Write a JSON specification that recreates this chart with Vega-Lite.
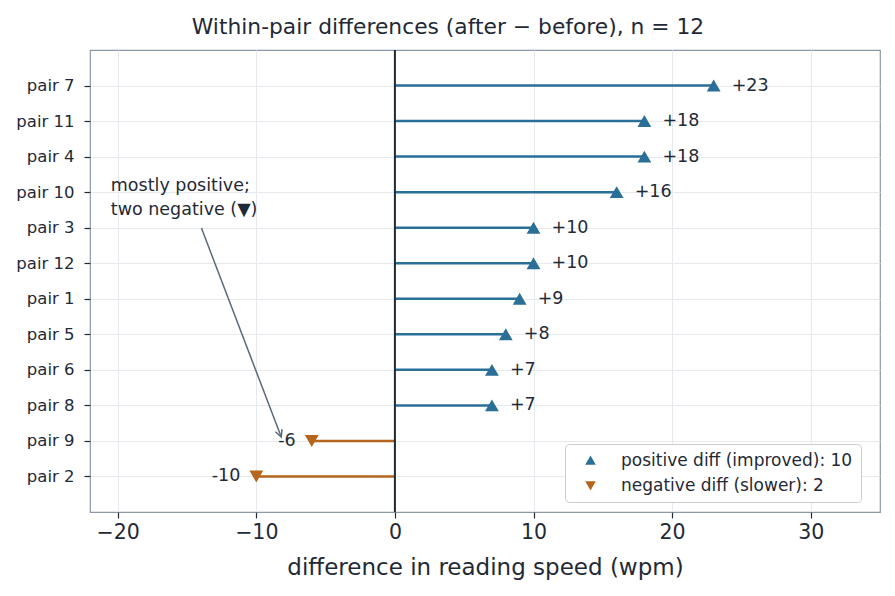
{
  "$schema": "https://vega.github.io/schema/vega-lite/v6.json",
  "autosize": "none",
  "width": 790,
  "height": 462,
  "padding": {"left": 90, "top": 50, "right": 15, "bottom": 84},
  "background": "white",
  "config": {
    "font": "DejaVu Sans",
    "view": {"stroke": "#8a99a8", "strokeWidth": 1.2},
    "axis": {"gridColor": "#e6eaef", "gridWidth": 1, "domain": false, "tickColor": "#1f2a36", "tickWidth": 1.2, "labelColor": "#1f2a36", "titleColor": "#1f2a36", "labelFont": "DejaVu Sans", "titleFont": "DejaVu Sans"},
    "legend": {"orient": "none", "legendX": 475, "legendY": 394, "labelFontSize": 17, "labelFont": "DejaVu Sans", "labelColor": "#1f2a36", "symbolSize": 64, "padding": 8, "symbolOffset": 9, "strokeColor": "#cccccc", "fillColor": "white", "cornerRadius": 4, "rowPadding": 7, "labelOffset": 22, "labelLimit": 400}
  },
  "title": {"text": "Within-pair differences (after \u2212 before), n = 12", "fontSize": 21.8, "fontWeight": "normal", "color": "#1f2a36", "offset": 10, "dx": -37, "font": "DejaVu Sans"},
  "datasets": {
    "pairs": [
      {"pair": "pair 7", "diff": 23, "label": "+23", "direction": "positive diff (improved): 10"},
      {"pair": "pair 11", "diff": 18, "label": "+18", "direction": "positive diff (improved): 10"},
      {"pair": "pair 4", "diff": 18, "label": "+18", "direction": "positive diff (improved): 10"},
      {"pair": "pair 10", "diff": 16, "label": "+16", "direction": "positive diff (improved): 10"},
      {"pair": "pair 3", "diff": 10, "label": "+10", "direction": "positive diff (improved): 10"},
      {"pair": "pair 12", "diff": 10, "label": "+10", "direction": "positive diff (improved): 10"},
      {"pair": "pair 1", "diff": 9, "label": "+9", "direction": "positive diff (improved): 10"},
      {"pair": "pair 5", "diff": 8, "label": "+8", "direction": "positive diff (improved): 10"},
      {"pair": "pair 6", "diff": 7, "label": "+7", "direction": "positive diff (improved): 10"},
      {"pair": "pair 8", "diff": 7, "label": "+7", "direction": "positive diff (improved): 10"},
      {"pair": "pair 9", "diff": -6, "label": "-6", "direction": "negative diff (slower): 2"},
      {"pair": "pair 2", "diff": -10, "label": "-10", "direction": "negative diff (slower): 2"}
    ],
    "note": [
      {"x": -20.5, "y": 3.83, "text": "mostly positive;"},
      {"x": -20.5, "y": 4.5, "text": "two negative (\u25bc)"}
    ],
    "arrow": [
      {"x": -13.96, "y": 5.01, "x2": -8.2, "y2": 10.89}
    ],
    "zero": [{"z": 0, "y": 0, "y2": 13}]
  },
  "layer": [
    {
      "data": {"name": "pairs"},
      "mark": {"type": "rule", "strokeWidth": 2.5},
      "encoding": {
        "y": {"field": "pair", "type": "nominal", "sort": null,
              "scale": {"type": "point", "padding": 1, "domain": ["pair 7","pair 11","pair 4","pair 10","pair 3","pair 12","pair 1","pair 5","pair 6","pair 8","pair 9","pair 2"]},
              "axis": {"title": null, "labelFontSize": 16.5, "tickSize": 6, "labelPadding": 10, "grid": true}},
        "x": {"field": "diff", "type": "quantitative", "scale": {"domain": [-22, 35], "nice": false, "zero": false},
              "axis": {"title": "difference in reading speed (wpm)", "titleFontSize": 23, "titleFontWeight": "normal", "labelFontSize": 20.5, "values": [-20, -10, 0, 10, 20, 30], "tickSize": 6, "labelPadding": 4, "titlePadding": 14, "labelExpr": "replace(datum.label, '-', '\u2212')"}},
        "x2": {"datum": 0},
        "color": {"field": "direction", "type": "nominal", "title": null, "scale": {"domain": ["positive diff (improved): 10", "negative diff (slower): 2"], "range": ["#2a6f97", "#b5651d"]}}
      }
    },
    {
      "data": {"name": "zero"},
      "mark": {"type": "rule", "color": "#1f2a36", "strokeWidth": 2},
      "encoding": {
        "x": {"field": "z", "type": "quantitative"},
        "y": {"field": "y", "type": "quantitative", "scale": {"domain": [0, 13], "reverse": true, "nice": false, "zero": false}, "axis": null},
        "y2": {"field": "y2"}
      }
    },
    {
      "data": {"name": "pairs"},
      "mark": {"type": "point", "filled": true, "opacity": 1, "size": 190},
      "encoding": {
        "y": {"field": "pair", "type": "nominal", "sort": null, "scale": {"type": "point", "padding": 1, "domain": ["pair 7","pair 11","pair 4","pair 10","pair 3","pair 12","pair 1","pair 5","pair 6","pair 8","pair 9","pair 2"]}, "axis": null},
        "x": {"field": "diff", "type": "quantitative"},
        "color": {"field": "direction", "type": "nominal", "title": null},
        "shape": {"field": "direction", "type": "nominal", "title": null, "scale": {"domain": ["positive diff (improved): 10", "negative diff (slower): 2"], "range": ["triangle-up", "triangle-down"]}}
      }
    },
    {
      "data": {"name": "pairs"},
      "transform": [{"filter": "datum.diff > 0"}],
      "mark": {"type": "text", "fontSize": 17.5, "color": "#1f2a36", "baseline": "middle", "align": "left", "dx": 18},
      "encoding": {
        "y": {"field": "pair", "type": "nominal", "sort": null, "scale": {"type": "point", "padding": 1, "domain": ["pair 7","pair 11","pair 4","pair 10","pair 3","pair 12","pair 1","pair 5","pair 6","pair 8","pair 9","pair 2"]}, "axis": null},
        "x": {"field": "diff", "type": "quantitative"},
        "text": {"field": "label"}
      }
    },
    {
      "data": {"name": "pairs"},
      "transform": [{"filter": "datum.diff < 0"}],
      "mark": {"type": "text", "fontSize": 17.5, "color": "#1f2a36", "baseline": "middle", "align": "right", "dx": -16},
      "encoding": {
        "y": {"field": "pair", "type": "nominal", "sort": null, "scale": {"type": "point", "padding": 1, "domain": ["pair 7","pair 11","pair 4","pair 10","pair 3","pair 12","pair 1","pair 5","pair 6","pair 8","pair 9","pair 2"]}, "axis": null},
        "x": {"field": "diff", "type": "quantitative"},
        "text": {"field": "label"}
      }
    },
    {
      "data": {"name": "note"},
      "mark": {"type": "text", "align": "left", "baseline": "middle", "fontSize": 17.5, "color": "#1f2a36"},
      "encoding": {
        "x": {"field": "x", "type": "quantitative"},
        "y": {"field": "y", "type": "quantitative", "scale": {"domain": [0, 13], "reverse": true, "nice": false, "zero": false}, "axis": null},
        "text": {"field": "text"}
      }
    },
    {
      "data": {"name": "arrow"},
      "mark": {"type": "rule", "color": "#5a6b7c", "strokeWidth": 1.5},
      "encoding": {
        "x": {"field": "x", "type": "quantitative"},
        "x2": {"field": "x2"},
        "y": {"field": "y", "type": "quantitative", "scale": {"domain": [0, 13], "reverse": true, "nice": false, "zero": false}, "axis": null},
        "y2": {"field": "y2"}
      }
    },
    {
      "data": {"name": "arrow"},
      "mark": {"type": "point", "shape": "M-0.5,-1L0,0L0.5,-1", "filled": false, "stroke": "#5a6b7c", "strokeWidth": 1.5, "size": 200, "angle": 339, "opacity": 1},
      "encoding": {
        "x": {"field": "x2", "type": "quantitative"},
        "y": {"field": "y2", "type": "quantitative", "scale": {"domain": [0, 13], "reverse": true, "nice": false, "zero": false}, "axis": null}
      }
    }
  ],
  "resolve": {"scale": {"y": "independent"}}
}
